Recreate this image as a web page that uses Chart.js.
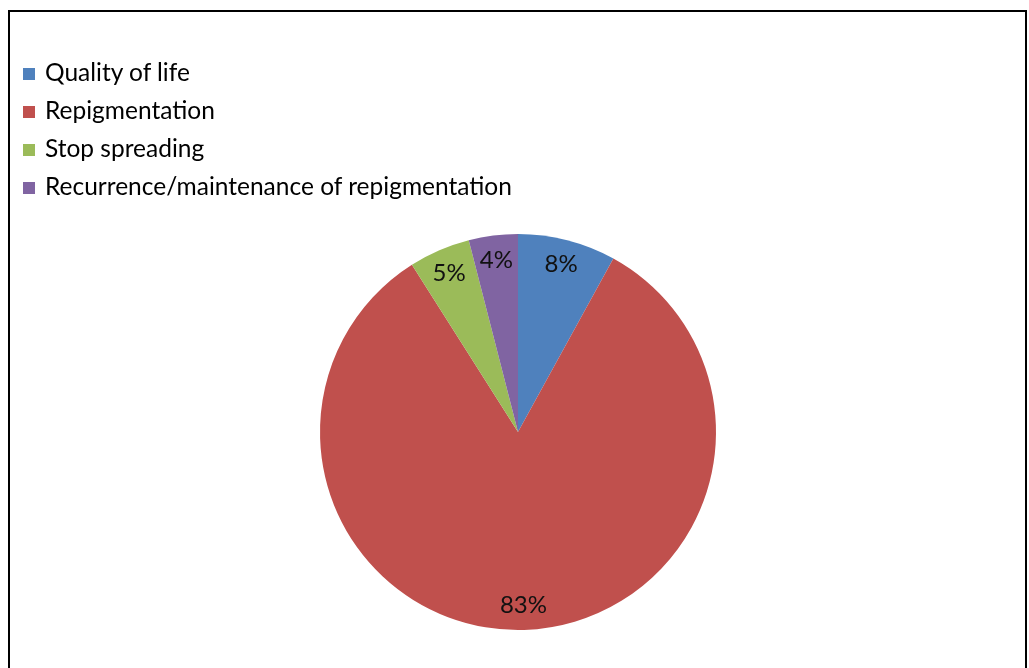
<!DOCTYPE html>
<html>
<head>
<meta charset="utf-8">
<script src="https://cdn.jsdelivr.net/npm/chart.js@4.4.1/dist/chart.umd.min.js"></script>
<style>
  html, body { margin: 0; padding: 0; background: #fff; overflow: hidden; }
  #wrap { position: relative; width: 1029px; height: 668px; }
  #frame {
    position: absolute; left: 8px; top: 10px; width: 1019px; height: 700px;
    border: 2px solid #000; box-sizing: border-box;
  }
  #legend {
    position: absolute; left: 23px; top: 55px;
    font-family: Lato, "Open Sans", sans-serif; font-size: 24.5px; color: #000;
  }
  .item { height: 38px; line-height: 34px; white-space: nowrap; }
  .box { display: inline-block; width: 12px; height: 12px; margin-right: 10px; vertical-align: 1px; }
  canvas { position: absolute; left: 0; top: 0; }
</style>
</head>
<body>
<div id="wrap">
  <div id="frame"></div>
  <canvas id="chart" width="1029" height="668"></canvas>
  <div id="legend"></div>
</div>
<script>
// chart data
const categories = ['Quality of life', 'Repigmentation', 'Stop spreading', 'Recurrence/maintenance of repigmentation'];
const percentages = [8, 83, 5, 4];
const sliceColors = ['#4F81BD', '#C0504D', '#9BBB59', '#8064A2'];

// draws the percentage inside each slice
const sliceLabels = {
    id: 'sliceLabels',
    afterDatasetsDraw(chart) {
        const ctx = chart.ctx;
        const meta = chart.getDatasetMeta(0);
        ctx.save();
        ctx.font = '24px Lato, "Open Sans", sans-serif';
        ctx.fillStyle = '#111';
        ctx.textAlign = 'center';
        ctx.textBaseline = 'middle';
        meta.data.forEach((arc, i) => {
            const p = arc.getProps(['x', 'y', 'startAngle', 'endAngle', 'outerRadius'], true);
            const mid = (p.startAngle + p.endAngle) / 2;
            const r = p.outerRadius * 0.875;
            ctx.fillText(percentages[i] + '%', p.x + Math.cos(mid) * r, p.y + Math.sin(mid) * r);
        });
        ctx.restore();
    }
};

const chartCtx = document.getElementById('chart').getContext('2d');
new Chart(chartCtx, {
    type: 'pie',
    data: {
        labels: categories,
        datasets: [{
            data: percentages,
            backgroundColor: sliceColors,
            borderWidth: 0
        }]
    },
    options: {
        responsive: false,
        animation: false,
        layout: { padding: { top: 234, bottom: 38, left: 320, right: 313 } },
        plugins: {
            legend: { display: false },
            tooltip: { enabled: false }
        }
    },
    plugins: [sliceLabels]
});

// legend as a plain list, one row per category
const legendEl = document.getElementById('legend');
categories.forEach((name, i) => {
    const row = document.createElement('div');
    row.className = 'item';
    const box = document.createElement('span');
    box.className = 'box';
    box.style.background = sliceColors[i];
    row.appendChild(box);
    row.appendChild(document.createTextNode(name));
    legendEl.appendChild(row);
});
</script>
</body>
</html>
